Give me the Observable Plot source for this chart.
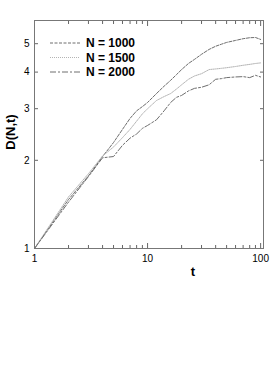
<!DOCTYPE html>
<html>
<head>
<meta charset="utf-8">
<script src="https://cdn.jsdelivr.net/npm/d3@7"></script>
<script src="https://cdn.jsdelivr.net/npm/@observablehq/plot@0.6"></script>
<style>
  html, body { margin: 0; padding: 0; background: #fff; }
  #chart svg { display: block; }
</style>
</head>
<body>
<div id="chart"></div>
<script>
// ---- data ----
const tValues = [1, 2, 3, 4, 5, 6, 7, 8, 9, 10, 12, 14, 16, 18, 20, 23, 26, 30, 35, 40, 45, 50, 60, 70, 80, 90, 100];
const seriesNames = ["N = 1000", "N = 1500", "N = 2000"];
const dN1000 = [1, 1.47, 1.77, 2.06, 2.3, 2.55, 2.78, 2.95, 3.05, 3.15, 3.38, 3.58, 3.75, 3.92, 4.08, 4.28, 4.42, 4.6, 4.78, 4.9, 4.98, 5.05, 5.13, 5.2, 5.24, 5.25, 5.17];
const dN1500 = [1, 1.5, 1.8, 2.07, 2.22, 2.39, 2.55, 2.72, 2.88, 3.0, 3.2, 3.3, 3.38, 3.5, 3.62, 3.78, 3.88, 3.95, 4.08, 4.1, 4.12, 4.14, 4.18, 4.22, 4.25, 4.28, 4.3];
const dN2000 = [1, 1.44, 1.76, 2.04, 2.06, 2.25, 2.38, 2.46, 2.57, 2.63, 2.75, 2.95, 3.15, 3.28, 3.33, 3.45, 3.52, 3.55, 3.62, 3.78, 3.8, 3.83, 3.85, 3.86, 3.83, 3.9, 3.85];
const xMajorTicks = [1, 10, 100];
const xMinorTicks = [2, 3, 4, 5, 6, 7, 8, 9, 20, 30, 40, 50, 60, 70, 80, 90];
const yTicks = [1, 2, 3, 4, 5];

const seriesValues = [dN1000, dN1500, dN2000];
const styles = [
  {stroke: "#6e6e6e", dash: "3,1.5"},
  {stroke: "#b4b4b4", dash: "1,1"},
  {stroke: "#6e6e6e", dash: "6,2,2,2"}
];

const rows = [];
seriesNames.forEach((name, i) => {
  tValues.forEach((t, j) => rows.push({series: name, t, d: seriesValues[i][j]}));
});

const font = "'Liberation Sans', Arial, sans-serif";
const W = 273, H = 392;
const mL = 34, mR = 10, mT = 20, mB = 144;

// inward ticks: normal axis ticks shifted back inside the frame
const inTicksX = (data, anchor, size) =>
  Plot.axisX(data, {anchor, tickSize: size, dy: anchor === "bottom" ? -size : size,
    fill: "none", stroke: "#666", label: null});
const inTicksY = (data, anchor, size) =>
  Plot.axisY(data, {anchor, tickSize: size, dx: anchor === "left" ? size : -size,
    fill: "none", stroke: "#666", label: null});

const plot = Plot.plot({
  width: W,
  height: H,
  marginLeft: mL,
  marginRight: mR,
  marginTop: mT,
  marginBottom: mB,
  style: {fontFamily: font, fontSize: "10px", background: "#fff", color: "#000"},
  x: {type: "log", domain: [1, 106]},
  y: {type: "log", domain: [1, 6]},
  marks: [
    ...seriesNames.map((name, i) =>
      Plot.line(rows.filter(r => r.series === name), {
        x: "t", y: "d",
        stroke: styles[i].stroke,
        strokeWidth: 1,
        strokeDasharray: styles[i].dash
      })
    ),
    inTicksX(xMajorTicks, "bottom", 5),
    inTicksX(xMinorTicks, "bottom", 3),
    inTicksX(xMajorTicks, "top", 5),
    inTicksX(xMinorTicks, "top", 3),
    inTicksY(yTicks, "left", 4),
    inTicksY(yTicks, "right", 4),
    Plot.axisX(xMajorTicks, {anchor: "bottom", tickSize: 0, tickPadding: 6, tickFormat: d => String(d), label: null, fill: "#000"}),
    Plot.axisY(yTicks, {anchor: "left", tickSize: 0, tickPadding: 5, tickFormat: d => String(d), label: null, fill: "#000"}),
    Plot.frame({stroke: "#777", strokeWidth: 1})
  ]
});

const svg = d3.select(plot);
svg.append("text")
  .attr("x", 193).attr("y", 276)
  .attr("text-anchor", "middle")
  .attr("font-family", font).attr("font-weight", "bold").attr("font-size", 13)
  .attr("fill", "#000")
  .text("t");
svg.append("text")
  .attr("transform", "translate(15,132) rotate(-90)")
  .attr("text-anchor", "middle")
  .attr("font-family", font).attr("font-weight", "bold").attr("font-size", 13)
  .attr("fill", "#000")
  .text("D(N,t)");

const lg = svg.append("g");
seriesNames.forEach((name, i) => {
  const cy = 43 + i * 14.5;
  lg.append("line")
    .attr("x1", 50).attr("x2", 80).attr("y1", cy).attr("y2", cy)
    .attr("stroke", styles[i].stroke).attr("stroke-dasharray", styles[i].dash);
  lg.append("text")
    .attr("x", 86).attr("y", cy).attr("dy", "0.36em")
    .attr("text-anchor", "start")
    .attr("font-family", font).attr("font-weight", "bold").attr("font-size", 12)
    .attr("fill", "#000")
    .text(name);
});

document.getElementById("chart").appendChild(plot);
</script>
</body>
</html>
